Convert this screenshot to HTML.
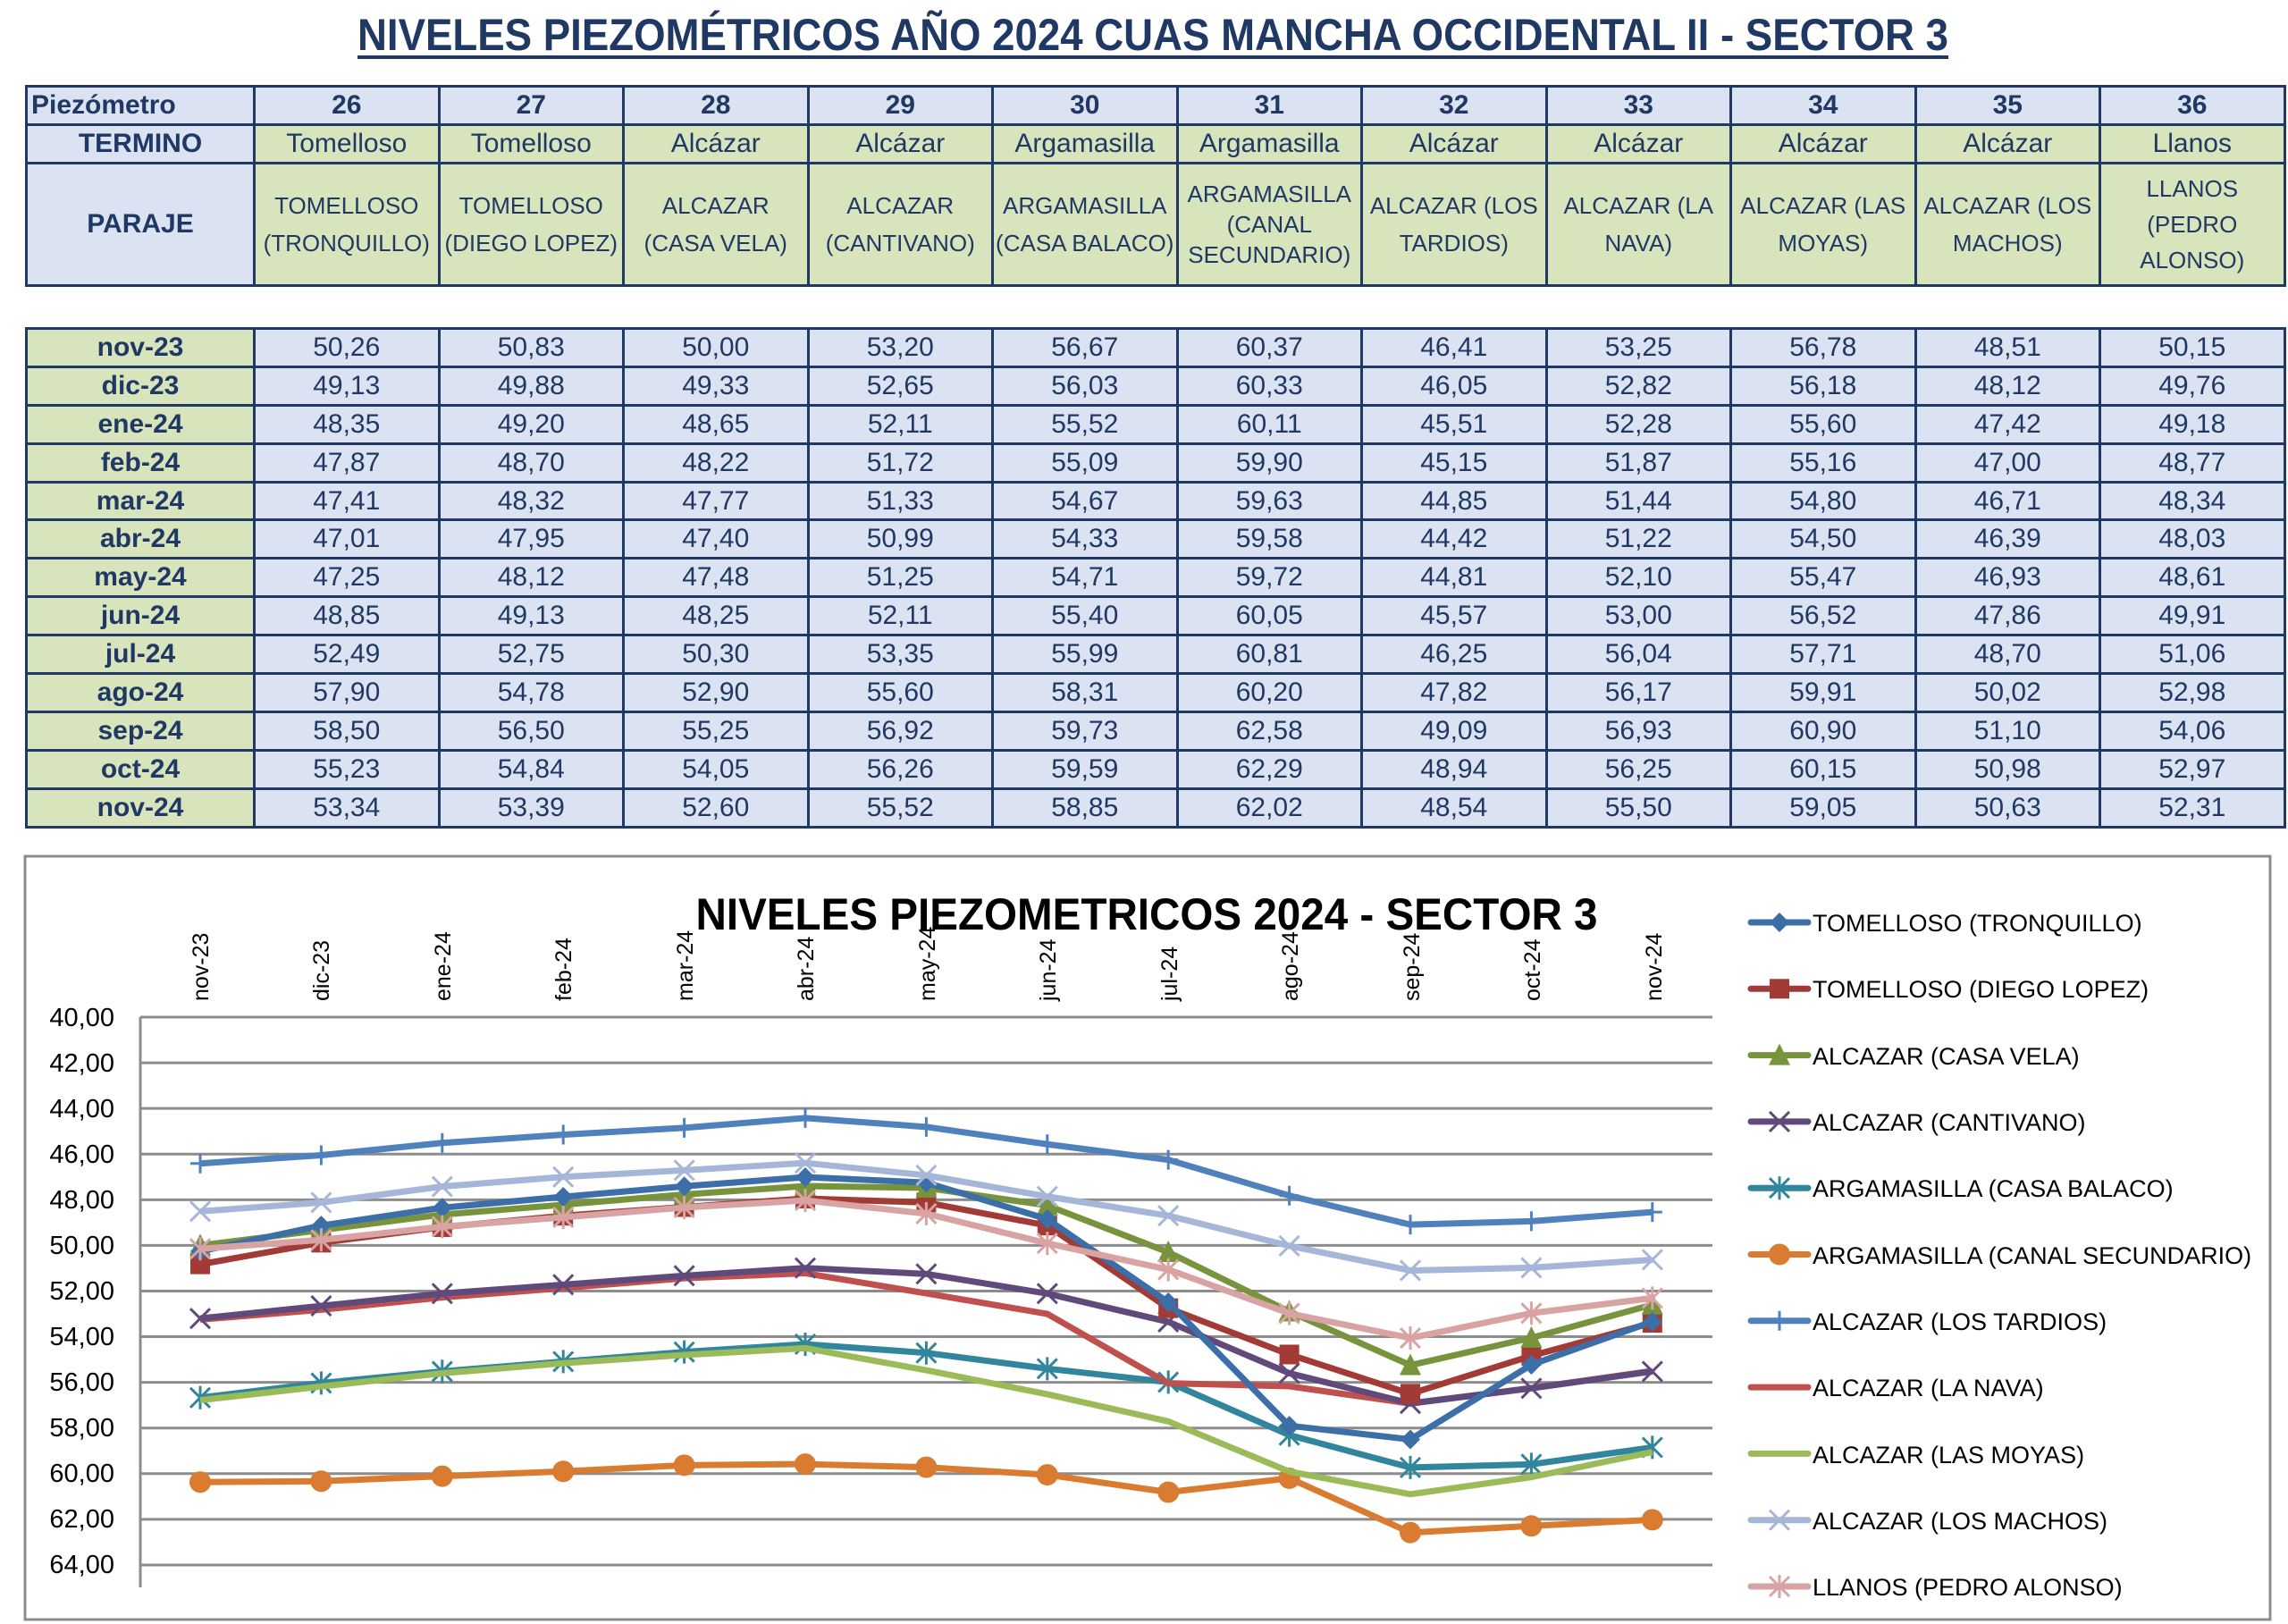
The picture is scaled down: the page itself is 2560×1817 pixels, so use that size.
<!DOCTYPE html>
<html><head><meta charset="utf-8">
<style>
body{margin:0;width:2560px;height:1817px;background:#fff;position:relative;overflow:hidden;font-family:"Liberation Sans",sans-serif;color:#1f3864}
table{position:absolute;left:28px;border-collapse:collapse;table-layout:fixed;width:2527px}
td{border:3px solid #1f3864;text-align:center;padding:0;overflow:hidden;white-space:nowrap}
.b{background:#dbe2f1}.g{background:#d8e4bc}
.t1 td{font-size:30px}
.t1 tr.r1 td{height:40px;font-weight:bold}
.t1 tr.r2 td{height:40px}
.t1 tr.r3 td{height:134px;font-size:26px;line-height:42px;white-space:normal}
.t1 .sm{font-size:22px;line-height:36px}
.t2 td{height:39.9px;font-size:30px}
.t2 td:first-child{font-weight:bold;background:#d8e4bc}
.t2 td{background:#dbe2f1}
</style></head><body>
<svg width="2560" height="100" style="position:absolute;left:0;top:0">
<text x="1290" y="56" text-anchor="middle" font-family="Liberation Sans" font-weight="bold" font-size="50" fill="#1f3864" textLength="1780" lengthAdjust="spacingAndGlyphs">NIVELES PIEZOMÉTRICOS AÑO 2024 CUAS MANCHA OCCIDENTAL II - SECTOR 3</text>
<rect x="400" y="62" width="1780" height="4" fill="#1f3864"/>
</svg>
<table class="t1" style="top:95px">
<colgroup><col style="width:255px"><col span="11" style="width:206.5px"></colgroup>
<tr class="r1"><td class="b" style="text-align:left;padding-left:4px">Piezómetro</td><td class="b">26</td><td class="b">27</td><td class="b">28</td><td class="b">29</td><td class="b">30</td><td class="b">31</td><td class="b">32</td><td class="b">33</td><td class="b">34</td><td class="b">35</td><td class="b">36</td></tr>
<tr class="r2"><td class="b" style="font-weight:bold">TERMINO</td><td class="g">Tomelloso</td><td class="g">Tomelloso</td><td class="g">Alcázar</td><td class="g">Alcázar</td><td class="g">Argamasilla</td><td class="g">Argamasilla</td><td class="g">Alcázar</td><td class="g">Alcázar</td><td class="g">Alcázar</td><td class="g">Alcázar</td><td class="g">Llanos</td></tr>
<tr class="r3"><td class="b" style="font-weight:bold;font-size:30px">PARAJE</td><td class="g sm">TOMELLOSO<br>(TRONQUILLO)</td><td class="g">TOMELLOSO<br>(DIEGO LOPEZ)</td><td class="g">ALCAZAR<br>(CASA VELA)</td><td class="g">ALCAZAR<br>(CANTIVANO)</td><td class="g sm">ARGAMASILLA<br>(CASA BALACO)</td><td class="g sm" style="line-height:34px">ARGAMASILLA<br>(CANAL<br>SECUNDARIO)</td><td class="g">ALCAZAR (LOS<br>TARDIOS)</td><td class="g">ALCAZAR (LA<br>NAVA)</td><td class="g">ALCAZAR (LAS<br>MOYAS)</td><td class="g">ALCAZAR (LOS<br>MACHOS)</td><td class="g" style="line-height:40px">LLANOS<br>(PEDRO<br>ALONSO)</td></tr>
</table>
<table class="t2" style="top:366px">
<colgroup><col style="width:255px"><col span="11" style="width:206.5px"></colgroup>
<tr><td>nov-23</td><td>50,26</td><td>50,83</td><td>50,00</td><td>53,20</td><td>56,67</td><td>60,37</td><td>46,41</td><td>53,25</td><td>56,78</td><td>48,51</td><td>50,15</td></tr>
<tr><td>dic-23</td><td>49,13</td><td>49,88</td><td>49,33</td><td>52,65</td><td>56,03</td><td>60,33</td><td>46,05</td><td>52,82</td><td>56,18</td><td>48,12</td><td>49,76</td></tr>
<tr><td>ene-24</td><td>48,35</td><td>49,20</td><td>48,65</td><td>52,11</td><td>55,52</td><td>60,11</td><td>45,51</td><td>52,28</td><td>55,60</td><td>47,42</td><td>49,18</td></tr>
<tr><td>feb-24</td><td>47,87</td><td>48,70</td><td>48,22</td><td>51,72</td><td>55,09</td><td>59,90</td><td>45,15</td><td>51,87</td><td>55,16</td><td>47,00</td><td>48,77</td></tr>
<tr><td>mar-24</td><td>47,41</td><td>48,32</td><td>47,77</td><td>51,33</td><td>54,67</td><td>59,63</td><td>44,85</td><td>51,44</td><td>54,80</td><td>46,71</td><td>48,34</td></tr>
<tr><td>abr-24</td><td>47,01</td><td>47,95</td><td>47,40</td><td>50,99</td><td>54,33</td><td>59,58</td><td>44,42</td><td>51,22</td><td>54,50</td><td>46,39</td><td>48,03</td></tr>
<tr><td>may-24</td><td>47,25</td><td>48,12</td><td>47,48</td><td>51,25</td><td>54,71</td><td>59,72</td><td>44,81</td><td>52,10</td><td>55,47</td><td>46,93</td><td>48,61</td></tr>
<tr><td>jun-24</td><td>48,85</td><td>49,13</td><td>48,25</td><td>52,11</td><td>55,40</td><td>60,05</td><td>45,57</td><td>53,00</td><td>56,52</td><td>47,86</td><td>49,91</td></tr>
<tr><td>jul-24</td><td>52,49</td><td>52,75</td><td>50,30</td><td>53,35</td><td>55,99</td><td>60,81</td><td>46,25</td><td>56,04</td><td>57,71</td><td>48,70</td><td>51,06</td></tr>
<tr><td>ago-24</td><td>57,90</td><td>54,78</td><td>52,90</td><td>55,60</td><td>58,31</td><td>60,20</td><td>47,82</td><td>56,17</td><td>59,91</td><td>50,02</td><td>52,98</td></tr>
<tr><td>sep-24</td><td>58,50</td><td>56,50</td><td>55,25</td><td>56,92</td><td>59,73</td><td>62,58</td><td>49,09</td><td>56,93</td><td>60,90</td><td>51,10</td><td>54,06</td></tr>
<tr><td>oct-24</td><td>55,23</td><td>54,84</td><td>54,05</td><td>56,26</td><td>59,59</td><td>62,29</td><td>48,94</td><td>56,25</td><td>60,15</td><td>50,98</td><td>52,97</td></tr>
<tr><td>nov-24</td><td>53,34</td><td>53,39</td><td>52,60</td><td>55,52</td><td>58,85</td><td>62,02</td><td>48,54</td><td>55,50</td><td>59,05</td><td>50,63</td><td>52,31</td></tr>
</table>
<svg id="ch" width="2560" height="1817" style="position:absolute;left:0;top:0" font-family="Liberation Sans">
<rect x="28" y="958" width="2512" height="854" fill="none" stroke="#8c8c8c" stroke-width="3"/>
<g id="grid" stroke="#8c8c8c" stroke-width="3"></g>
<line x1="157" y1="1138" x2="157" y2="1776" stroke="#8c8c8c" stroke-width="3"/>
<g font-size="29" fill="#000" text-anchor="end">
<text x="128" y="1148">40,00</text><text x="128" y="1199">42,00</text><text x="128" y="1250">44,00</text><text x="128" y="1301">46,00</text><text x="128" y="1352">48,00</text><text x="128" y="1403">50,00</text><text x="128" y="1454">52,00</text><text x="128" y="1505">54,00</text><text x="128" y="1556">56,00</text><text x="128" y="1607">58,00</text><text x="128" y="1658">60,00</text><text x="128" y="1709">62,00</text><text x="128" y="1760">64,00</text>
</g>
<g font-size="25" fill="#000" text-anchor="start">
<text transform="translate(233,1120) rotate(-90)">nov-23</text>
<text transform="translate(368,1120) rotate(-90)">dic-23</text>
<text transform="translate(504,1120) rotate(-90)">ene-24</text>
<text transform="translate(639,1120) rotate(-90)">feb-24</text>
<text transform="translate(775,1120) rotate(-90)">mar-24</text>
<text transform="translate(910,1120) rotate(-90)">abr-24</text>
<text transform="translate(1046,1120) rotate(-90)">may-24</text>
<text transform="translate(1181,1120) rotate(-90)">jun-24</text>
<text transform="translate(1317,1120) rotate(-90)">jul-24</text>
<text transform="translate(1452,1120) rotate(-90)">ago-24</text>
<text transform="translate(1588,1120) rotate(-90)">sep-24</text>
<text transform="translate(1723,1120) rotate(-90)">oct-24</text>
<text transform="translate(1859,1120) rotate(-90)">nov-24</text>
</g>
<text x="1283" y="1040" text-anchor="middle" font-weight="bold" font-size="50" fill="#000" textLength="1009" lengthAdjust="spacingAndGlyphs">NIVELES PIEZOMETRICOS 2024 - SECTOR 3</text>
<g id="series"></g>
<g id="leg"></g>
<g font-size="27" fill="#000">
<text x="2028" y="1042">TOMELLOSO (TRONQUILLO)</text>
<text x="2028" y="1116">TOMELLOSO (DIEGO LOPEZ)</text>
<text x="2028" y="1191">ALCAZAR (CASA VELA)</text>
<text x="2028" y="1265">ALCAZAR (CANTIVANO)</text>
<text x="2028" y="1339">ARGAMASILLA (CASA BALACO)</text>
<text x="2028" y="1414">ARGAMASILLA (CANAL SECUNDARIO)</text>
<text x="2028" y="1488">ALCAZAR (LOS TARDIOS)</text>
<text x="2028" y="1562">ALCAZAR (LA NAVA)</text>
<text x="2028" y="1637">ALCAZAR (LAS MOYAS)</text>
<text x="2028" y="1711">ALCAZAR (LOS MACHOS)</text>
<text x="2028" y="1785">LLANOS (PEDRO ALONSO)</text>
</g>
</svg>
<script>
var D=[[50.26,50.83,50.00,53.20,56.67,60.37,46.41,53.25,56.78,48.51,50.15],[49.13,49.88,49.33,52.65,56.03,60.33,46.05,52.82,56.18,48.12,49.76],[48.35,49.20,48.65,52.11,55.52,60.11,45.51,52.28,55.60,47.42,49.18],[47.87,48.70,48.22,51.72,55.09,59.90,45.15,51.87,55.16,47.00,48.77],[47.41,48.32,47.77,51.33,54.67,59.63,44.85,51.44,54.80,46.71,48.34],[47.01,47.95,47.40,50.99,54.33,59.58,44.42,51.22,54.50,46.39,48.03],[47.25,48.12,47.48,51.25,54.71,59.72,44.81,52.10,55.47,46.93,48.61],[48.85,49.13,48.25,52.11,55.40,60.05,45.57,53.00,56.52,47.86,49.91],[52.49,52.75,50.30,53.35,55.99,60.81,46.25,56.04,57.71,48.70,51.06],[57.90,54.78,52.90,55.60,58.31,60.20,47.82,56.17,59.91,50.02,52.98],[58.50,56.50,55.25,56.92,59.73,62.58,49.09,56.93,60.90,51.10,54.06],[55.23,54.84,54.05,56.26,59.59,62.29,48.94,56.25,60.15,50.98,52.97],[53.34,53.39,52.60,55.52,58.85,62.02,48.54,55.50,59.05,50.63,52.31]];
var C=["#3c6ea8","#a23b36","#77933c","#604a7b","#31859c","#d97b30","#4f81bd","#c0504d","#9bbb59","#a6b6d8","#d9a3a3"];
var M=["dia","sq","tri","x","ast","cir","plus","dash","dash","x","ast"];
var ns="http://www.w3.org/2000/svg";
function el(t,a,p){var e=document.createElementNS(ns,t);for(var k in a)e.setAttribute(k,a[k]);p.appendChild(e);return e;}
var g=document.getElementById("grid");
for(var i=0;i<13;i++){var y=1138+i*51.08;el("line",{x1:157,y1:y,x2:1916,y2:y},g);}
function X(i){return 224+135.4*i;}function Y(v){return 1138+(v-40)*25.54;}
function mk(t,x,y,c,p){var s=11;
 if(t=="dia")el("polygon",{points:[x,y-s,x+s,y,x,y+s,x-s,y].join(" "),fill:c},p);
 else if(t=="sq")el("rect",{x:x-s,y:y-s,width:2*s,height:2*s,fill:c},p);
 else if(t=="tri")el("polygon",{points:[x,y-s-2,x+s+1,y+s,x-s-1,y+s].join(" "),fill:c},p);
 else if(t=="cir")el("circle",{cx:x,cy:y,r:s+1,fill:c},p);
 else if(t=="x"||t=="ast"){el("path",{d:"M"+(x-s)+" "+(y-s)+"L"+(x+s)+" "+(y+s)+"M"+(x-s)+" "+(y+s)+"L"+(x+s)+" "+(y-s)+(t=="ast"?"M"+x+" "+(y-s-2)+"L"+x+" "+(y+s+2):""),stroke:c,"stroke-width":3,fill:"none"},p);}
 else if(t=="plus")el("path",{d:"M"+x+" "+(y-s)+"L"+x+" "+(y+s)+"M"+(x-s)+" "+y+"L"+(x+s)+" "+y,stroke:c,"stroke-width":3},p);
}
var S=document.getElementById("series");
var order=[5,4,8,7,3,1,2,0,10,9,6];
for(var oo=0;oo<11;oo++){var s=order[oo];var pts=[];for(var i=0;i<13;i++)pts.push(X(i)+","+Y(D[i][s]));
 el("polyline",{points:pts.join(" "),fill:"none",stroke:C[s],"stroke-width":7,"stroke-linejoin":"round"},S);
 for(var i=0;i<13;i++)mk(M[s],X(i),Y(D[i][s]),C[s],S);}
var L=document.getElementById("leg");
for(var s=0;s<11;s++){var y=1032+74.3*s;el("line",{x1:1959,y1:y,x2:2023,y2:y,stroke:C[s],"stroke-width":7,"stroke-linecap":"round"},L);mk(M[s],1991,y,C[s],L);}
</script>
</body></html>
